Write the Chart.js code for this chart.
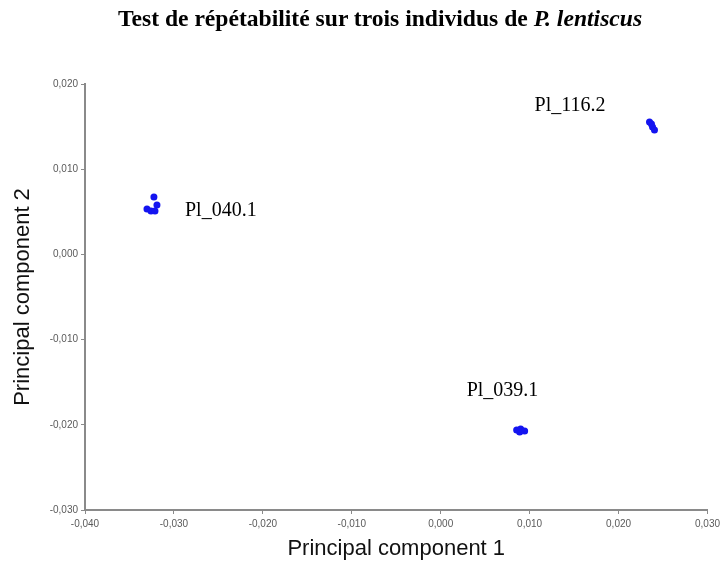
<!DOCTYPE html>
<html>
<head>
<meta charset="utf-8">
<script src="https://cdn.jsdelivr.net/npm/chart.js@4.4.0/dist/chart.umd.min.js"></script>
<style>
  html, body { margin:0; padding:0; background:#fff; overflow:hidden; }
  #wrap { position:relative; width:724px; height:562px; }
  #title { position:absolute; top:5px; left:0; width:760px; text-align:center;
    font-family:"Liberation Serif", "Times New Roman", serif; font-weight:bold; font-size:23.6px; color:#000; }
  canvas { position:absolute; left:0; top:0; }
</style>
</head>
<body>
<div id="wrap">
  <canvas id="pca" width="724" height="562"></canvas>
  <div id="title">Test de répétabilité sur trois individus de <i>P. lentiscus</i></div>
</div>
<script>
// PCA scores for the three individuals (replicates)
const pc1_040 = [-0.03225, -0.03191, -0.03303, -0.03258, -0.03213];
const pc2_040 = [0.00674, 0.00580, 0.00533, 0.00509, 0.00509];
const pc1_116 = [0.02348, 0.02370, 0.02382, 0.02404];
const pc2_116 = [0.01554, 0.01530, 0.01495, 0.01460];
const pc1_039 = [0.00854, 0.00899, 0.00944, 0.00888];
const pc2_039 = [-0.02061, -0.02049, -0.02073, -0.02085];

// group labels, placed in data units
const groupNames = ['Pl_040.1', 'Pl_116.2', 'Pl_039.1'];
const groupLabelX = [-0.02876, 0.01056, 0.00292];
const groupLabelY = [0.0051, 0.01742, -0.01603];

const toPts = (xs, ys) => xs.map((x, i) => ({ x: x, y: ys[i] }));
const fmt = v => (Math.abs(v) < 1e-9 ? 0 : v).toFixed(3).replace('.', ',');

const groupLabels = {
  id: 'groupLabels',
  afterDatasetsDraw(chart) {
    const ctx = chart.ctx;
    const xs = chart.scales.x, ys = chart.scales.y;
    ctx.save();
    ctx.font = '20px "Liberation Serif", "Times New Roman", serif';
    ctx.fillStyle = '#000';
    ctx.textAlign = 'left';
    ctx.textBaseline = 'middle';
    groupNames.forEach((name, i) => {
      ctx.fillText(name, xs.getPixelForValue(groupLabelX[i]), ys.getPixelForValue(groupLabelY[i]));
    });
    ctx.restore();
  }
};

const ptStyle = { backgroundColor: '#1414f0', borderWidth: 0, pointRadius: 3.5 };

new Chart(document.getElementById('pca'), {
  type: 'scatter',
  data: {
    datasets: [
      Object.assign({ label: 'Pl_040.1', data: toPts(pc1_040, pc2_040) }, ptStyle),
      Object.assign({ label: 'Pl_116.2', data: toPts(pc1_116, pc2_116) }, ptStyle),
      Object.assign({ label: 'Pl_039.1', data: toPts(pc1_039, pc2_039) }, ptStyle)
    ]
  },
  options: {
    responsive: false,
    animation: false,
    layout: { padding: { top: 84, right: 16, left: 0, bottom: 0 } },
    plugins: { legend: { display: false }, tooltip: { enabled: false } },
    scales: {
      x: {
        type: 'linear', min: -0.04, max: 0.03,
        afterFit: s => { s.height = 52; },
        border: { display: true, color: '#8a8a8a', width: 2 },
        grid: { drawOnChartArea: false, drawTicks: true, tickLength: 4, color: '#8a8a8a' },
        ticks: { stepSize: 0.01, padding: 4, color: '#5a5a5a', font: { family: '"Liberation Sans", Arial', size: 10 }, callback: v => fmt(v) },
        title: { display: true, text: 'Principal component 1', color: '#111', padding: { top: 0, bottom: 0 },
          font: { family: '"Liberation Sans", Arial', size: 22 } }
      },
      y: {
        type: 'linear', min: -0.03, max: 0.02,
        afterFit: s => { s.width = 85; },
        border: { display: true, color: '#8a8a8a', width: 2 },
        grid: { drawOnChartArea: false, drawTicks: true, tickLength: 4, color: '#8a8a8a' },
        ticks: { stepSize: 0.01, padding: 3, color: '#5a5a5a', font: { family: '"Liberation Sans", Arial', size: 10 }, callback: v => fmt(v) },
        title: { display: true, text: 'Principal component 2', color: '#111', padding: { top: 10, bottom: 0 },
          font: { family: '"Liberation Sans", Arial', size: 22 } }
      }
    }
  },
  plugins: [groupLabels]
});
</script>
</body>
</html>
